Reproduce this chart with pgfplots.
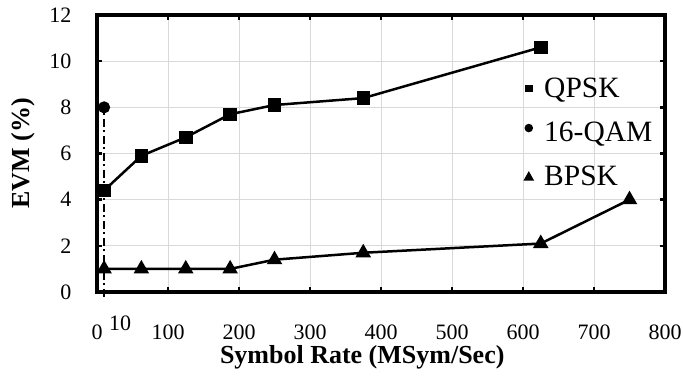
\documentclass[border=0pt]{standalone}
\usepackage{fontspec}
\setmainfont{Liberation Serif}
\usepackage{pgfplots}
\pgfplotsset{compat=1.18}
\begin{document}
\begin{tikzpicture}[x=1bp,y=1bp]
\useasboundingbox (0,0) rectangle (683,377);
\begin{axis}[
  at={(97bp,85bp)}, anchor=south west,
  scale only axis, width=568bp, height=277bp,
  xmin=0, xmax=800, ymin=0, ymax=12,
  xtick={0,100,...,800}, ytick={0,2,...,12},
  /pgf/number format/assume math mode=true,
  grid=major, major grid style={color=black!15, line width=0.8bp},
  axis line style={line width=4bp},
  tick align=inside, major tick length=5bp,
  every tick/.style={black, line width=2.5bp},
  tick label style={font=\fontsize{22bp}{24bp}\selectfont},
  xticklabel style={yshift=-29bp},
  yticklabel style={xshift=-22bp},
  xlabel={Symbol Rate (MSym/Sec)},
  ylabel={EVM (\%)},
  every axis x label/.style={at={(axis description cs:0.467,-0.235)}, anchor=center, font=\bfseries\fontsize{26bp}{28bp}\selectfont},
  every axis y label/.style={at={(axis description cs:-0.13,0.5)}, rotate=90, anchor=center, font=\bfseries\fontsize{26bp}{28bp}\selectfont},
  extra x ticks={10}, extra x tick labels={10},
  extra x tick style={grid=none, major tick length=0pt, xticklabel style={xshift=16bp, yshift=9bp}},
  clip=false,
  legend style={draw=none, fill=none, at={(rel axis cs:0.752,0.78)}, anchor=north west,
    font=\fontsize{29.5bp}{31bp}\selectfont, row sep=19bp, inner sep=0pt,
    /tikz/every odd column/.append style={column sep=9bp}},
  legend cell align=left,
]
\addplot[black, line width=2.5bp, mark=square*, mark size=5.5bp,
  legend image code/.code={\fill[black,solid] (0.35cm-2.5bp,-2.5bp) rectangle ++(5bp,5bp);}]
  coordinates {(10,4.4) (62.5,5.9) (125,6.7) (187.5,7.7) (250,8.1) (375,8.4) (625,10.6)};
\addlegendentry{QPSK}
\addplot[black, line width=2bp, dash pattern=on 8bp off 3.5bp on 2bp off 3.5bp, mark=*, mark size=5bp,
  mark indices={2}, mark options={solid},
  legend image code/.code={\fill[black,solid] (0.35cm,0) circle (3.2bp);}]
  coordinates {(10,-0.2) (10,8)};
\addlegendentry{16-QAM}
\addplot[black, line width=2.5bp, mark=triangle*, mark size=6.5bp,
  legend image code/.code={\fill[black,solid] (0.35cm-3.2bp,-2.7bp) -- (0.35cm+3.2bp,-2.7bp) -- (0.35cm,3bp) -- cycle;}]
  coordinates {(10,1) (62.5,1) (125,1) (187.5,1) (250,1.4) (375,1.7) (625,2.1) (750,4.0)};
\addlegendentry{BPSK}
\end{axis}
\end{tikzpicture}
\end{document}
